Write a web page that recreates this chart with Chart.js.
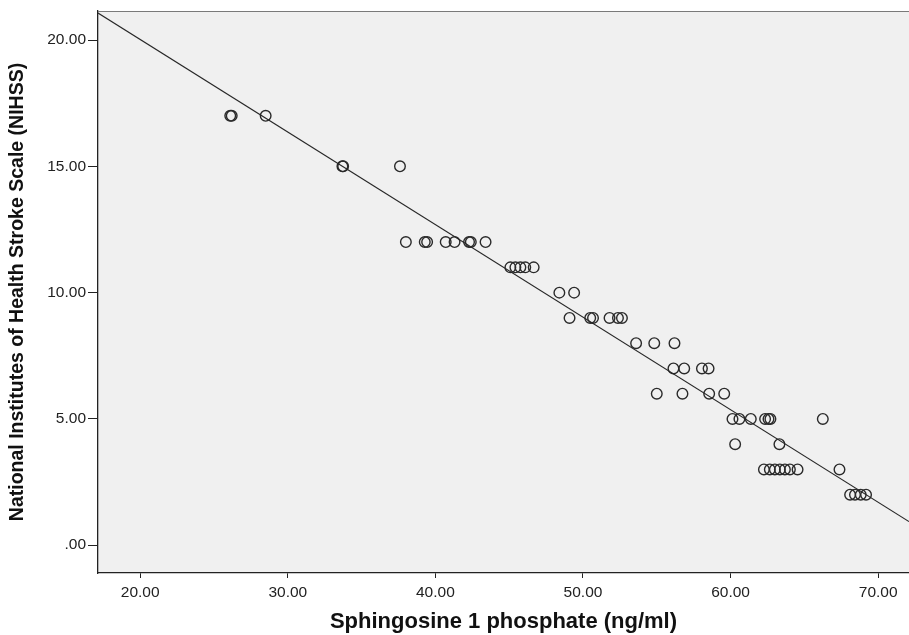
<!DOCTYPE html>
<html>
<head>
<meta charset="utf-8">
<script src="https://cdn.jsdelivr.net/npm/chart.js@4.4.1/dist/chart.umd.min.js"></script>
<style>
  html, body { margin: 0; padding: 0; background: #ffffff; }
  canvas { display: block; }
</style>
</head>
<body>
<canvas id="scatterChart" width="909" height="635"></canvas>
<script>
// S1P (ng/ml) vs NIHSS
const s1pValues = [
    26.1, 26.2, 28.5,
    33.7, 33.75, 37.6,
    38.0, 39.28, 39.44, 40.7, 41.3, 42.28, 42.4, 43.4,
    45.08, 45.42, 45.76, 46.09, 46.66,
    48.4, 49.4,
    49.09, 50.49, 50.68, 51.8, 52.37, 52.64,
    53.6, 54.83, 56.2,
    56.13, 56.86, 58.06, 58.51,
    55.0, 56.74, 58.55, 59.57,
    60.13, 60.6, 61.37, 62.34, 62.57, 62.7, 66.25,
    60.31, 63.31,
    62.26, 62.66, 63.0, 63.34, 63.68, 64.02, 64.54, 67.38,
    68.1, 68.43, 68.82, 69.18
];
const nihssValues = [
    17, 17, 17,
    15, 15, 15,
    12, 12, 12, 12, 12, 12, 12, 12,
    11, 11, 11, 11, 11,
    10, 10,
    9, 9, 9, 9, 9, 9,
    8, 8, 8,
    7, 7, 7, 7,
    6, 6, 6, 6,
    5, 5, 5, 5, 5, 5, 5,
    4, 4,
    3, 3, 3, 3, 3, 3, 3, 3,
    2, 2, 2, 2
];

const xTickValues = [20, 30, 40, 50, 60, 70];
const xTickLabels = ["20.00", "30.00", "40.00", "50.00", "60.00", "70.00"];
const yTickValues = [0, 5, 10, 15, 20];
const yTickLabels = [".00", "5.00", "10.00", "15.00", "20.00"];

const xRange = [17.14, 72.09];
const yRange = [-1.1, 21.15];

// least squares fit line across the whole x axis
function fitLine(xs, ys) {
    const n = xs.length;
    let sx = 0, sy = 0, sxx = 0, sxy = 0;
    for (let i = 0; i < n; i++) {
        sx += xs[i]; sy += ys[i];
        sxx += xs[i] * xs[i]; sxy += xs[i] * ys[i];
    }
    const slope = (n * sxy - sx * sy) / (n * sxx - sx * sx);
    const intercept = (sy - slope * sx) / n;
    return xRange.map(x => ({ x: x, y: intercept + slope * x }));
}

const points = s1pValues.map((x, i) => ({ x: x, y: nihssValues[i] }));

const fontFamily = "'Liberation Sans', Arial, sans-serif";

const plotFrame = {
    id: "plotFrame",
    beforeDraw(chart) {
        const { ctx, chartArea } = chart;
        ctx.save();
        ctx.fillStyle = "#ffffff";
        ctx.fillRect(0, 0, chart.width, chart.height);
        ctx.fillStyle = "#f0f0f0";
        ctx.fillRect(chartArea.left, chartArea.top,
            chartArea.right - chartArea.left, chartArea.bottom - chartArea.top);
        ctx.restore();
    },
    afterDraw(chart) {
        const { ctx, chartArea } = chart;
        ctx.save();
        ctx.strokeStyle = "#7a7a7a";
        ctx.lineWidth = 1.2;
        ctx.beginPath();
        ctx.moveTo(chartArea.left, chartArea.top + 0.5);
        ctx.lineTo(chartArea.right, chartArea.top + 0.5);
        ctx.stroke();
        ctx.restore();
    }
};

const ctx = document.getElementById("scatterChart").getContext("2d");

new Chart(ctx, {
    type: "scatter",
    data: {
        datasets: [
            {
                type: "line",
                data: fitLine(s1pValues, nihssValues),
                borderColor: "#262626",
                borderWidth: 1.2,
                pointRadius: 0,
                fill: false
            },
            {
                data: points,
                pointStyle: "circle",
                pointRadius: 5.3,
                borderColor: "#2a2a2a",
                borderWidth: 1.4,
                backgroundColor: "rgba(0,0,0,0)"
            }
        ]
    },
    options: {
        responsive: false,
        animation: false,
        layout: {
            autoPadding: false,
            padding: { top: 11, right: 0, left: 0, bottom: 0 }
        },
        plugins: {
            legend: { display: false },
            tooltip: { enabled: false }
        },
        scales: {
            x: {
                type: "linear",
                min: xRange[0],
                max: xRange[1],
                afterBuildTicks: s => { s.ticks = xTickValues.map(v => ({ value: v })); },
                afterFit: s => { s.height = 62; s.paddingLeft = 0; s.paddingRight = 0; },
                grid: {
                    drawOnChartArea: false,
                    drawTicks: true,
                    tickLength: 5,
                    color: "#222"
                },
                border: { display: true, color: "#222", width: 1.3 },
                ticks: {
                    autoSkip: false,
                    maxRotation: 0,
                    padding: 5,
                    color: "#222",
                    font: { family: fontFamily, size: 15.5 },
                    callback: v => xTickLabels[xTickValues.indexOf(v)]
                },
                title: {
                    display: true,
                    text: "Sphingosine 1 phosphate (ng/ml)",
                    color: "#111",
                    font: { family: fontFamily, size: 22, weight: "bold" },
                    padding: { top: 0, bottom: 0 }
                }
            },
            y: {
                type: "linear",
                min: yRange[0],
                max: yRange[1],
                afterBuildTicks: s => { s.ticks = yTickValues.map(v => ({ value: v })); },
                afterFit: s => { s.width = 98; s.paddingTop = 0; s.paddingBottom = 0; },
                grid: {
                    drawOnChartArea: false,
                    drawTicks: true,
                    tickLength: 10,
                    color: "#222"
                },
                border: { display: true, color: "#222", width: 1.3 },
                ticks: {
                    autoSkip: false,
                    padding: 2,
                    color: "#222",
                    font: { family: fontFamily, size: 15.5 },
                    callback: v => yTickLabels[yTickValues.indexOf(v)]
                },
                title: {
                    display: true,
                    text: "National Institutes of Health Stroke Scale (NIHSS)",
                    color: "#111",
                    font: { family: fontFamily, size: 19.5, weight: "bold" },
                    padding: { top: 6, bottom: 0 }
                }
            }
        }
    },
    plugins: [plotFrame]
});
</script>
</body>
</html>
